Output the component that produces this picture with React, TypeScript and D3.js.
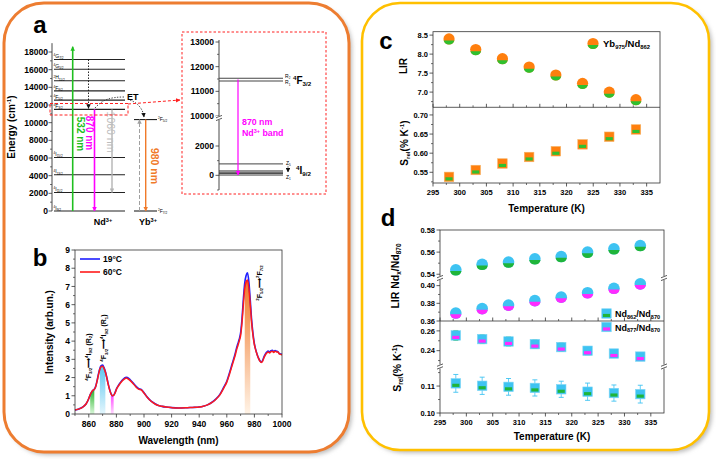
import * as d3 from "d3";

const FONT = "'Liberation Sans', Arial, Helvetica, sans-serif";
const ORANGE = "#ED7D31";
const GOLD = "#FFC000";
const AX = "#333";

// ---------- panel a : energy levels (cm-1)
const energyTicks = [0, 2000, 4000, 6000, 8000, 10000, 12000, 14000, 16000, 18000];
const ndEnergy = [0, 2100, 4100, 6050, 11500, 12550, 13600, 14750, 16050, 17150];
const ndTerms: [string, string, string][] = [
  ["4", "I", "9/2"], ["4", "I", "11/2"], ["4", "I", "13/2"], ["4", "I", "15/2"],
  ["4", "F", "3/2"], ["4", "F", "5/2"], ["4", "F", "9/2"], ["2", "H", "11/2"],
  ["4", "G", "5/2"], ["4", "G", "7/2"],
];
const ybEnergy = [0, 10350];
const ybTerms: [string, string, string][] = [["2", "F", "7/2"], ["2", "F", "5/2"]];
const pumpTop = 18600;

// inset
const insetUpperTicks = [10000, 11000, 12000, 13000];
const insetLowerTicks = [0, 2000];
const rLevels = [11420, 11530];
const zLevels = [20, 120, 210, 300, 780];

// ---------- panel b : spectra
const wl = [
  850, 853, 856, 858, 860, 861, 862, 863, 864, 865,
  866, 867, 868, 869, 870, 871, 872, 873, 874, 875,
  876, 877, 878, 879, 880, 882, 884, 886, 887, 888,
  890, 892, 894, 896, 898, 900, 902, 904, 906, 908,
  910, 913, 916, 920, 925, 930, 935, 940, 943, 946,
  949, 952, 955, 958, 960, 962, 964, 965, 966, 967,
  968, 969, 970, 971, 972, 973, 974, 975, 976, 977,
  978, 979, 980, 981, 982, 983, 984, 985, 986, 987,
  988, 989, 990, 991, 992, 993, 994, 995, 996, 997,
  998, 1000,
];
const int60 = [
  0.22, 0.28, 0.4, 0.55, 0.85, 1.05, 1.2, 1.3, 1.35, 1.5,
  1.8, 2.15, 2.45, 2.6, 2.62, 2.5, 2.3, 2.0, 1.65, 1.35,
  1.12, 1.0, 1.02, 1.15, 1.35, 1.6, 1.8, 1.93, 1.97, 1.95,
  1.83, 1.68, 1.5, 1.37, 1.32, 1.15, 0.95, 0.78, 0.65, 0.55,
  0.48, 0.42, 0.38, 0.35, 0.33, 0.34, 0.36, 0.38, 0.42, 0.5,
  0.62, 0.8, 1.05, 1.45, 1.75, 2.2, 2.7, 2.95, 3.2, 3.5,
  3.75, 4.0, 4.3, 5.0, 6.0, 6.9, 7.25, 7.35, 6.9, 6.0,
  5.0, 4.3, 3.8, 3.5, 3.25, 3.05, 2.9, 2.83, 2.9, 3.1,
  3.25, 3.35, 3.4, 3.35, 3.42, 3.45, 3.38, 3.45, 3.4, 3.4,
  3.3, 3.25,
];
const int19 = [
  0.22, 0.28, 0.4, 0.55, 0.85, 1.05, 1.2, 1.3, 1.36, 1.52,
  1.83, 2.2, 2.5, 2.65, 2.68, 2.55, 2.33, 2.02, 1.67, 1.37,
  1.13, 1.01, 1.03, 1.17, 1.37, 1.63, 1.84, 1.98, 2.02, 2.0,
  1.88, 1.72, 1.54, 1.4, 1.35, 1.17, 0.96, 0.79, 0.66, 0.56,
  0.48, 0.42, 0.38, 0.35, 0.33, 0.34, 0.36, 0.38, 0.42, 0.5,
  0.63, 0.82, 1.08, 1.5, 1.8, 2.27, 2.78, 3.03, 3.3, 3.6,
  3.85, 4.1, 4.45, 5.2, 6.3, 7.2, 7.6, 7.75, 7.25, 6.25,
  5.15, 4.4, 3.85, 3.52, 3.27, 3.07, 2.92, 2.85, 2.95, 3.15,
  3.3, 3.4, 3.45, 3.4, 3.47, 3.5, 3.42, 3.48, 3.45, 3.42,
  3.32, 3.27,
];
const bandRanges = [[861, 864], [868, 872], [876, 878], [973, 977]];
const bandColors = [["#2cb52c", "#d9f7d9"], ["#5cc6ef", "#e3f6fd"], ["#ff3cff", "#ffd9ff"], ["#f0782a", "#fff3e6"]];
const wlTicks = [860, 880, 900, 920, 940, 960, 980, 1000];
const intTicks = [0, 1, 2, 3, 4, 5, 6, 7, 8, 9];

// ---------- panel c / d
const temps = [298, 303, 308, 313, 318, 323, 328, 333];
const tempTicks = [295, 300, 305, 310, 315, 320, 325, 330, 335];
const lirYbNd = [8.4, 8.12, 7.88, 7.66, 7.45, 7.23, 7.0, 6.8];
const srelYbNd = [0.538, 0.556, 0.573, 0.59, 0.605, 0.623, 0.643, 0.662];
const lirTicksC = [7.0, 7.5, 8.0, 8.5];
const srelTicksC = [0.55, 0.6, 0.65, 0.7];

const lir862 = [0.544, 0.549, 0.551, 0.554, 0.556, 0.56, 0.563, 0.566];
const lir877 = [0.369, 0.374, 0.378, 0.383, 0.387, 0.392, 0.397, 0.402];
const srel877 = [0.2554, 0.2517, 0.2493, 0.2466, 0.2436, 0.2399, 0.2371, 0.234];
const srel877Err = [0.005, 0.0045, 0.0045, 0.0042, 0.0042, 0.004, 0.004, 0.004];
const srel862 = [0.111, 0.1101, 0.1097, 0.1093, 0.1088, 0.1079, 0.1074, 0.107];
const srel862Err = [0.0033, 0.0032, 0.0031, 0.003, 0.003, 0.0032, 0.003, 0.0033];
const lirTicksDUp = [0.54, 0.56, 0.58];
const lirTicksDLo = [0.36, 0.38, 0.4];
const srelTicksDUp = [0.24, 0.26];
const srelTicksDLo = [0.1, 0.11];

type Seg = [string, string?];
function Rich({ segs, fs, ...rest }: any) {
  let cur = 0;
  return (
    <text fontSize={fs} {...rest}>
      {segs.map(([t, k]: Seg, i: number) => {
        const target = k === "u" ? -0.38 * fs : k === "d" ? 0.22 * fs : 0;
        const dy = target - cur;
        cur = target;
        return (
          <tspan key={i} dy={dy} fontSize={k ? fs * 0.62 : fs}>
            {t}
          </tspan>
        );
      })}
    </text>
  );
}
const term = (t: [string, string, string]): Seg[] => [[t[0], "u"], [t[1]], [t[2], "d"]];

function YTicks({ scale, major, minor, x, fmt, fs = 7.5 }: any) {
  return (
    <g>
      {minor.map((v: number) => (
        <line key={"m" + v} x1={x - 2} x2={x} y1={scale(v)} y2={scale(v)} stroke={AX} strokeWidth={0.7} />
      ))}
      {major.map((v: number) => (
        <g key={v}>
          <line x1={x - 3.5} x2={x} y1={scale(v)} y2={scale(v)} stroke={AX} strokeWidth={0.8} />
          <text x={x - 5} y={scale(v) + fs * 0.36} textAnchor="end" fontSize={fs}>
            {fmt(v)}
          </text>
        </g>
      ))}
    </g>
  );
}

function XTicks({ scale, major, minor, y, fmt, fs = 7.5, up = false, labels = true }: any) {
  const s = up ? -1 : 1;
  return (
    <g>
      {minor.map((v: number) => (
        <line key={"m" + v} y1={y} y2={y + 2 * s} x1={scale(v)} x2={scale(v)} stroke={AX} strokeWidth={0.7} />
      ))}
      {major.map((v: number) => (
        <g key={v}>
          <line y1={y} y2={y + 3.5 * s} x1={scale(v)} x2={scale(v)} stroke={AX} strokeWidth={0.8} />
          {labels && (
            <text x={scale(v)} y={y + 4 + fs} textAnchor="middle" fontSize={fs}>
              {fmt(v)}
            </text>
          )}
        </g>
      ))}
    </g>
  );
}

function BreakMark({ x, y }: { x: number; y: number }) {
  return (
    <g>
      <rect x={x - 3} y={y - 2} width={6} height={4} fill="white" />
      <line x1={x - 3} y1={y - 0.2} x2={x + 3} y2={y - 2.6} stroke={AX} strokeWidth={0.8} />
      <line x1={x - 3} y1={y + 2.6} x2={x + 3} y2={y + 0.2} stroke={AX} strokeWidth={0.8} />
    </g>
  );
}

function SegCircle({ cx, cy, r, top, bottom, h }: any) {
  const w = Math.sqrt(r * r - h * h);
  return (
    <g>
      <circle cx={cx} cy={cy} r={r} fill={top} />
      <path d={`M${cx - w},${cy + h}A${r},${r} 0 0 0 ${cx + w},${cy + h}Z`} fill={bottom} />
    </g>
  );
}

function BandSquare({ cx, cy, s, fill, band, stroke }: any) {
  return (
    <g>
      <rect x={cx - s / 2} y={cy - s / 2} width={s} height={s} fill={fill} stroke={stroke} strokeWidth={0.6} />
      <rect x={cx - s / 2 + 1.2} y={cy + 0.4} width={s - 2.4} height={s / 2 - 1.6} fill={band} />
    </g>
  );
}

function Defs() {
  const cols: [string, string][] = [
    ["green", "#1fbf1f"], ["mag", "#ff00ff"], ["gray", "#b4b4b4"], ["black", "#111"],
    ["orange", "#f07a2a"], ["red", "#ff2020"], ["dgray", "#a0a0a0"],
  ];
  return (
    <defs>
      {cols.map(([id, c]) => (
        <marker key={id} id={"ah-" + id} viewBox="0 0 10 10" refX={9} refY={5} markerWidth={4.5} markerHeight={4.5} orient="auto" markerUnits="userSpaceOnUse">
          <path d="M0,0 L10,5 L0,10 z" fill={c} />
        </marker>
      ))}
      <filter id="shadow" x="-5%" y="-5%" width="110%" height="110%">
        <feGaussianBlur stdDeviation="2" />
      </filter>
      {bandColors.map(([c1, c2], i) => (
        <linearGradient key={i} id={"band" + i} x1="0" y1="0" x2="0" y2="1">
          <stop offset="0" stopColor={c1} />
          <stop offset="1" stopColor={c2} />
        </linearGradient>
      ))}
    </defs>
  );
}

function PanelA() {
  const yE = d3.scaleLinear().domain([0, 18000]).range([211, 52]);
  const minor = d3.range(1000, 19000, 2000);
  const yUp = d3.scaleLinear().domain([10000, 13000]).range([116, 42]);
  const yLo = d3.scaleLinear().domain([-1000, 2000]).range([190, 146]);
  const ax = 52;
  const iax = 219;
  return (
    <g>
      <text x={40} y={33} fontSize={24} textAnchor="middle">a</text>
      {/* energy axis */}
      <line x1={ax} x2={ax} y1={yE(0)} y2={yE(19000)} stroke={AX} strokeWidth={0.9} />
      {minor.map((v) => (
        <line key={v} x1={ax - 2} x2={ax} y1={yE(v)} y2={yE(v)} stroke={AX} strokeWidth={0.7} />
      ))}
      {energyTicks.map((v) => (
        <g key={v}>
          <line x1={ax - 3.5} x2={ax} y1={yE(v)} y2={yE(v)} stroke={AX} strokeWidth={0.8} />
          <text x={ax - 4} y={yE(v) + 3} textAnchor="end" fontSize={8.5}>{v}</text>
        </g>
      ))}
      <Rich segs={[["Energy (cm"], ["-1", "u"], [")"]]} fs={10} textAnchor="middle" transform={`translate(15,127) rotate(-90)`} />

      {/* Nd levels */}
      {ndEnergy.map((e, i) => (
        <g key={e}>
          <line x1={ax + 2} x2={125} y1={yE(e)} y2={yE(e)} stroke="#222" strokeWidth={1.1} />
          <Rich segs={term(ndTerms[i])} fs={5} x={ax + 1.5} y={yE(e) - 1.3} fontWeight="normal" />
        </g>
      ))}
      {/* Yb levels */}
      {ybEnergy.map((e, i) => (
        <g key={e}>
          <line x1={134} x2={157} y1={yE(e)} y2={yE(e)} stroke="#222" strokeWidth={1.1} />
          <Rich segs={term(ybTerms[i])} fs={5} x={158} y={yE(e) + 1.5} fontWeight="normal" />
        </g>
      ))}

      {/* transitions */}
      <line x1={72.7} x2={72.7} y1={yE(0)} y2={yE(pumpTop)} stroke="#1fbf1f" strokeWidth={1.6} markerEnd="url(#ah-green)" />
      <text transform="translate(76.5,134) rotate(90)" textAnchor="middle" fontSize={10} fill="#1fbf1f">532 nm</text>
      <line x1={88.5} x2={88.5} y1={yE(ndEnergy[9])} y2={yE(ndEnergy[4]) - 1} stroke="#111" strokeWidth={0.9} strokeDasharray="1.5,1.5" markerEnd="url(#ah-black)" />
      <line x1={94.5} x2={94.5} y1={yE(ndEnergy[4])} y2={yE(0)} stroke="#ff00ff" strokeWidth={1.6} markerEnd="url(#ah-mag)" />
      <text transform="translate(85.5,133) rotate(90)" textAnchor="middle" fontSize={10} fill="#ff00ff">870 nm</text>
      <line x1={112} x2={112} y1={yE(ndEnergy[4])} y2={yE(ndEnergy[1])} stroke="#b4b4b4" strokeWidth={1.4} markerEnd="url(#ah-gray)" />
      <text transform="translate(106.5,132) rotate(90)" textAnchor="middle" fontSize={10.5} fill="#bdbdbd" fontWeight="normal">1060 nm</text>
      <line x1={139.5} x2={139.5} y1={yE(0)} y2={yE(ybEnergy[1])} stroke="#a0a0a0" strokeWidth={1} strokeDasharray="4,2" markerEnd="url(#ah-dgray)" />
      <line x1={145.7} x2={145.7} y1={yE(ybEnergy[1])} y2={yE(0)} stroke="#f07a2a" strokeWidth={1.4} markerEnd="url(#ah-orange)" />
      <text transform="translate(150.5,166) rotate(90)" textAnchor="middle" fontSize={10.5} fill="#f07a2a">980 nm</text>

      {/* energy transfer */}
      <path d="M95,108 C102,100 110,97 124,97" fill="none" stroke="#333" strokeWidth={0.9} strokeDasharray="1.4,1.4" />
      <path d="M130,100 C138,103 143,109 144,117" fill="none" stroke="#333" strokeWidth={0.9} strokeDasharray="1.4,1.4" markerEnd="url(#ah-black)" />
      <text x={127} y={99.5} fontSize={9}>ET</text>

      <Rich segs={[["Nd"], ["3+", "u"]]} fs={9} x={103} y={225} textAnchor="middle" />
      <Rich segs={[["Yb"], ["3+", "u"]]} fs={9} x={148} y={225} textAnchor="middle" />

      {/* zoom box and arrow */}
      <rect x={50} y={103.5} width={78} height={11.5} fill="none" stroke="#ff2020" strokeWidth={1} strokeDasharray="3,2" />
      <line x1={128} y1={104} x2={180} y2={100} stroke="#ff2020" strokeWidth={1} strokeDasharray="3,2" markerEnd="url(#ah-red)" />

      {/* inset */}
      <rect x={182} y={32} width={144} height={162} fill="none" stroke="#ff2020" strokeWidth={1} strokeDasharray="2.5,2" />
      <line x1={iax} x2={iax} y1={40} y2={190} stroke={AX} strokeWidth={0.9} />
      {[10500, 11500, 12500].map((v) => (
        <line key={v} x1={iax - 2} x2={iax} y1={yUp(v)} y2={yUp(v)} stroke={AX} strokeWidth={0.7} />
      ))}
      {[1000, -1000].map((v) => (
        <line key={v} x1={iax - 2} x2={iax} y1={yLo(v)} y2={yLo(v)} stroke={AX} strokeWidth={0.7} />
      ))}
      {insetUpperTicks.map((v) => (
        <g key={v}>
          <line x1={iax - 3.5} x2={iax} y1={yUp(v)} y2={yUp(v)} stroke={AX} strokeWidth={0.8} />
          <text x={iax - 5} y={yUp(v) + 3} textAnchor="end" fontSize={8.5}>{v}</text>
        </g>
      ))}
      {insetLowerTicks.map((v) => (
        <g key={v}>
          <line x1={iax - 3.5} x2={iax} y1={yLo(v)} y2={yLo(v)} stroke={AX} strokeWidth={0.8} />
          <text x={iax - 5} y={yLo(v) + 3} textAnchor="end" fontSize={8.5}>{v}</text>
        </g>
      ))}
      <BreakMark x={iax} y={yUp(10000) + 2} />
      {rLevels.map((e) => (
        <line key={e} x1={iax} x2={283} y1={yUp(e)} y2={yUp(e)} stroke="#444" strokeWidth={1.1} />
      ))}
      {zLevels.map((e) => (
        <line key={e} x1={iax} x2={283} y1={yLo(e)} y2={yLo(e)} stroke="#444" strokeWidth={1} />
      ))}
      <Rich segs={[["R"], ["2", "d"]]} fs={5} x={285} y={yUp(rLevels[1]) - 0.5} fontWeight="normal" />
      <Rich segs={[["R"], ["1", "d"]]} fs={5} x={285} y={yUp(rLevels[0]) + 3.5} fontWeight="normal" />
      <Rich segs={term(["4", "F", "3/2"])} fs={10} x={293} y={84} />
      <Rich segs={[["Z"], ["5", "d"]]} fs={5} x={286} y={yLo(zLevels[4]) + 1} fontWeight="normal" />
      <line x1={288} x2={288} y1={yLo(zLevels[4]) + 2} y2={yLo(zLevels[0]) - 3} stroke="#333" strokeWidth={0.6} markerEnd="url(#ah-black)" />
      <Rich segs={[["Z"], ["1", "d"]]} fs={5} x={286} y={yLo(zLevels[0]) + 3.5} fontWeight="normal" />
      <Rich segs={term(["4", "I", "9/2"])} fs={10} x={296} y={174} />
      <line x1={238} x2={238} y1={yUp(11475)} y2={yLo(zLevels[0])} stroke="#ff00ff" strokeWidth={1.2} markerEnd="url(#ah-mag)" />
      <text x={242} y={125} fontSize={8.8} fill="#ff00ff">870 nm</text>
      <Rich segs={[["Nd"], ["3+", "u"], [" band"]]} fs={8.8} x={242} y={136} fill="#ff00ff" />
    </g>
  );
}

function PanelB() {
  const x = d3.scaleLinear().domain([850, 1000]).range([75, 282]);
  const y = d3.scaleLinear().domain([0, 9]).range([414, 250]);
  const line = (vals: number[]) =>
    d3.line<number>().x((_, i) => x(wl[i])).y((d) => y(d)).curve(d3.curveMonotoneX)(vals) || "";
  const area = d3
    .area<number>()
    .x((i) => x(wl[i]))
    .y0(y(0))
    .y1((i) => y(int60[i]))
    .curve(d3.curveMonotoneX);
  return (
    <g>
      <text x={40} y={266} fontSize={24} textAnchor="middle">b</text>
      {bandRanges.map(([a, b], k) => {
        const idx = wl.map((_, i) => i).filter((i) => wl[i] >= a && wl[i] <= b);
        return <path key={k} d={area(idx) || ""} fill={`url(#band${k})`} />;
      })}
      <path d={line(int19)} fill="none" stroke="#1f1fff" strokeWidth={1.6} />
      <path d={line(int60)} fill="none" stroke="#ff1a1a" strokeWidth={1.5} />
      <rect x={75} y={250} width={207} height={164} fill="none" stroke={AX} strokeWidth={0.8} />
      <YTicks scale={y} major={intTicks} minor={d3.range(0.5, 9, 1)} x={75} fmt={(v: number) => v} fs={8.5} />
      <XTicks scale={x} major={wlTicks} minor={d3.range(850, 1000, 20)} y={414} fmt={(v: number) => v} fs={8.5} />
      <text x={178.5} y={444} textAnchor="middle" fontSize={10}>Wavelength (nm)</text>
      <text transform="translate(53,332) rotate(-90)" textAnchor="middle" fontSize={10}>Intensity (arb.un.)</text>
      {/* legend */}
      <line x1={80} x2={100} y1={259} y2={259} stroke="#1f1fff" strokeWidth={1.6} />
      <text x={103} y={262} fontSize={8.5}>19°C</text>
      <line x1={80} x2={100} y1={272} y2={272} stroke="#ff1a1a" strokeWidth={1.6} />
      <text x={103} y={275} fontSize={8.5}>60°C</text>
      {/* annotations */}
      <Rich segs={[...term(["4", "F", "3/2"]), ["⟶"], ...term(["4", "I", "9/2"]), [" (R"], ["2", "d"], [")"]]} fs={7} textAnchor="middle" transform="translate(90.5,357) rotate(-90)" />
      <Rich segs={[...term(["4", "F", "3/2"]), ["⟶"], ...term(["4", "I", "9/2"]), [" (R"], ["1", "d"], [")"]]} fs={7} textAnchor="middle" transform="translate(106,338) rotate(-90)" />
      <Rich segs={[...term(["2", "F", "5/2"]), ["⟶"], ...term(["2", "F", "7/2"])]} fs={7} textAnchor="middle" transform="translate(261.5,283) rotate(-90)" />
    </g>
  );
}

function PanelC() {
  const x = d3.scaleLinear().domain([295, 337.5]).range([433, 660]);
  const yL = d3.scaleLinear().domain([6.6, 8.59]).range([107.3, 31.7]);
  const yS = d3.scaleLinear().domain([0.522, 0.72]).range([183, 107.3]);
  const xMinor = d3.range(297.5, 337.5, 5);
  return (
    <g>
      <text x={386} y={49} fontSize={24} textAnchor="middle">c</text>
      <rect x={433} y={31.7} width={227} height={151.3} fill="none" stroke={AX} strokeWidth={0.8} />
      <line x1={433} x2={660} y1={107.3} y2={107.3} stroke={AX} strokeWidth={0.8} />
      <YTicks scale={yL} major={lirTicksC} minor={[6.75, 7.25, 7.75, 8.25]} x={433} fmt={d3.format(".1f")} />
      <YTicks scale={yS} major={srelTicksC} minor={[0.525, 0.575, 0.625, 0.675]} x={433} fmt={d3.format(".2f")} />
      <XTicks scale={x} major={tempTicks} minor={xMinor} y={183} fmt={(v: number) => v} />
      <XTicks scale={x} major={tempTicks} minor={xMinor} y={107.3} up labels={false} fmt={(v: number) => v} />
      {temps.map((t, i) => (
        <SegCircle key={t} cx={x(t)} cy={yL(lirYbNd[i])} r={5.6} top="#ff7f0e" bottom="#2fc02f" h={1.6} />
      ))}
      {temps.map((t, i) => (
        <BandSquare key={t} cx={x(t)} cy={yS(srelYbNd[i])} s={9.5} fill="#ff7f0e" band="#2fc02f" stroke="#f5b060" />
      ))}
      <text transform="translate(407,66) rotate(-90)" textAnchor="middle" fontSize={10}>LIR</text>
      <Rich segs={[["S"], ["rel", "d"], ["(% K"], ["-1", "u"], [")"]]} fs={10} textAnchor="middle" transform="translate(408,143) rotate(-90)" />
      <text x={546.5} y={212} textAnchor="middle" fontSize={10}>Temperature (K)</text>
      <SegCircle cx={593} cy={43.5} r={5.6} top="#ff7f0e" bottom="#2fc02f" h={1.6} />
      <Rich segs={[["Yb"], ["975", "d"], ["/Nd"], ["862", "d"]]} fs={9.5} x={603} y={47} />
    </g>
  );
}

function PanelD() {
  const x = d3.scaleLinear().domain([295, 337.5]).range([440, 664]);
  const yL1 = d3.scaleLinear().domain([0.5375, 0.58]).range([277, 230]);
  const yL2 = d3.scaleLinear().domain([0.36, 0.4075]).range([321, 279]);
  const yS1 = d3.scaleLinear().domain([0.2255, 0.27]).range([365, 321]);
  const yS2 = d3.scaleLinear().domain([0.1, 0.1167]).range([413, 368]);
  const xMinor = d3.range(297.5, 337.5, 5);
  const cyan = "#3ec3f2";
  return (
    <g>
      <text x={388} y={226} fontSize={24} textAnchor="middle">d</text>
      <rect x={440} y={230} width={224} height={183} fill="none" stroke={AX} strokeWidth={0.8} />
      <line x1={440} x2={664} y1={321} y2={321} stroke={AX} strokeWidth={0.8} />
      <YTicks scale={yL1} major={lirTicksDUp} minor={[0.55, 0.57]} x={440} fmt={d3.format(".2f")} />
      <YTicks scale={yL2} major={lirTicksDLo} minor={[0.37, 0.39]} x={440} fmt={d3.format(".2f")} />
      <YTicks scale={yS1} major={srelTicksDUp} minor={[0.23, 0.25]} x={440} fmt={d3.format(".2f")} />
      <YTicks scale={yS2} major={srelTicksDLo} minor={[0.105, 0.115]} x={440} fmt={d3.format(".2f")} />
      <XTicks scale={x} major={tempTicks} minor={xMinor} y={413} fmt={(v: number) => v} />
      <XTicks scale={x} major={tempTicks} minor={xMinor} y={321} up labels={false} fmt={(v: number) => v} />
      <BreakMark x={440} y={278} />
      <BreakMark x={664} y={278} />
      <BreakMark x={440} y={366.5} />
      <BreakMark x={664} y={366.5} />
      {temps.map((t, i) => (
        <SegCircle key={"a" + t} cx={x(t)} cy={yL1(lir862[i])} r={5.8} top={cyan} bottom="#1fb53a" h={1.2} />
      ))}
      {temps.map((t, i) => (
        <SegCircle key={"b" + t} cx={x(t)} cy={yL2(lir877[i])} r={5.8} top={cyan} bottom="#ff2bff" h={1.2} />
      ))}
      {temps.map((t, i) => {
        const cx = x(t);
        const y0 = yS1(srel877[i] + srel877Err[i]);
        const y1 = yS1(srel877[i] - srel877Err[i]);
        return (
          <g key={"c" + t}>
            <line x1={cx} x2={cx} y1={y0} y2={y1} stroke="#22b53a" strokeWidth={0.8} />
            <line x1={cx - 2.5} x2={cx + 2.5} y1={y0} y2={y0} stroke="#22b53a" strokeWidth={0.9} />
            <line x1={cx - 2.5} x2={cx + 2.5} y1={y1} y2={y1} stroke="#22b53a" strokeWidth={0.9} />
            <BandSquare cx={cx} cy={yS1(srel877[i])} s={9.5} fill={cyan} band="#ff2bff" stroke="#7fd6f5" />
          </g>
        );
      })}
      {temps.map((t, i) => {
        const cx = x(t);
        const y0 = yS2(srel862[i] + srel862Err[i]);
        const y1 = yS2(srel862[i] - srel862Err[i]);
        return (
          <g key={"d" + t}>
            <line x1={cx} x2={cx} y1={y0} y2={y1} stroke={cyan} strokeWidth={0.8} />
            <line x1={cx - 2.5} x2={cx + 2.5} y1={y0} y2={y0} stroke={cyan} strokeWidth={0.9} />
            <line x1={cx - 2.5} x2={cx + 2.5} y1={y1} y2={y1} stroke={cyan} strokeWidth={0.9} />
            <BandSquare cx={cx} cy={yS2(srel862[i])} s={9.5} fill={cyan} band="#1fb53a" stroke="#7fd6f5" />
          </g>
        );
      })}
      <Rich segs={[["LIR Nd"], ["x", "d"], ["/Nd"], ["870", "d"]]} fs={10.5} textAnchor="middle" transform="translate(399,276) rotate(-90)" />
      <Rich segs={[["S"], ["rel", "d"], ["(% K"], ["-1", "u"], [")"]]} fs={10.5} textAnchor="middle" transform="translate(401,368) rotate(-90)" />
      <text x={552} y={440} textAnchor="middle" fontSize={10}>Temperature (K)</text>
      <BandSquare cx={606.5} cy={313.5} s={9.5} fill={cyan} band="#1fb53a" stroke="#7fd6f5" />
      <Rich segs={[["Nd"], ["862", "d"], ["/Nd"], ["870", "d"]]} fs={9} x={615} y={317} />
      <BandSquare cx={606.5} cy={327} s={9.5} fill={cyan} band="#ff2bff" stroke="#7fd6f5" />
      <Rich segs={[["Nd"], ["877", "d"], ["/Nd"], ["870", "d"]]} fs={9} x={615} y={330.5} />
    </g>
  );
}

export default function App() {
  return (
    <svg
      width={716}
      height={459}
      viewBox="0 0 716 459"
      style={{ position: "absolute", left: 0, top: 0, background: "white" }}
      fontFamily={FONT}
      fontWeight="bold"
    >
      <Defs />
      <rect width={716} height={459} fill="white" />
      {/* panel frames */}
      <rect x={7} y={6} width={345} height={449} rx={40} fill="#bdbdbd" filter="url(#shadow)" />
      <rect x={4} y={3} width={345} height={449} rx={40} fill="white" stroke={ORANGE} strokeWidth={3} />
      <rect x={365} y={6} width={347} height={447} rx={38} fill="#bdbdbd" filter="url(#shadow)" />
      <rect x={362} y={3} width={347} height={447} rx={38} fill="white" stroke={GOLD} strokeWidth={2.6} />
      <PanelA />
      <PanelB />
      <PanelC />
      <PanelD />
    </svg>
  );
}
